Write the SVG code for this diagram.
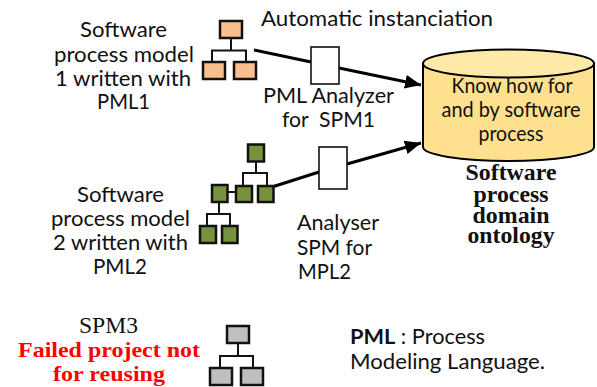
<svg xmlns="http://www.w3.org/2000/svg" width="597" height="387" viewBox="0 0 597 387">
<style>
text{font-family:"Lato","Liberation Sans",sans-serif;font-size:21px;fill:#111}
.s{font-family:"Liberation Serif",serif;font-size:23px}
.b{font-family:"Liberation Serif",serif;font-weight:bold;font-size:23px;fill:#111}
.r{font-family:"Liberation Serif",serif;font-weight:bold;font-size:22px;fill:#f00}
.o rect{fill:#f9bf8c;stroke:#111;stroke-width:2.5}
.g rect{fill:#76923c;stroke:#111;stroke-width:2.5}
.y rect{fill:#bfbfbf;stroke:#111;stroke-width:2.5}
.t{fill:none;stroke:#111;stroke-width:2}
.box{fill:#fff;stroke:#111;stroke-width:1.6}
.c{fill:none;stroke:#000;stroke-width:3}
</style>
<defs>
<marker id="a" markerUnits="userSpaceOnUse" markerWidth="18" markerHeight="16" refX="16" refY="7" orient="auto"><path d="M0 0L16 7L0 14Z" fill="#000"/></marker>
</defs>
<g id="connectors">
<path class="c" d="M254 50L311 62"/>
<path class="c" d="M339 68L421 85" marker-end="url(#a)"/>
<path class="c" d="M272 187L319 172"/>
<path class="c" d="M347 164L421 143" marker-end="url(#a)"/>
</g>
<g id="ontology">
<path d="M423 63.500V147A85.500 14 0 0 0 594 147V63.500Z" fill="#ffe08f" stroke="#000" stroke-width="2"/>
<ellipse cx="508.500" cy="63.500" rx="85.500" ry="14" fill="#ffe9a8" stroke="#000" stroke-width="2"/>
<text x="512" y="93" text-anchor="middle" textLength="121" lengthAdjust="spacingAndGlyphs">Know how for</text>
<text x="511" y="117" text-anchor="middle" textLength="139" lengthAdjust="spacingAndGlyphs">and by software</text>
<text x="511" y="141" text-anchor="middle" textLength="65" lengthAdjust="spacingAndGlyphs">process</text>
<text class="b" x="511" y="180" text-anchor="middle" textLength="91" lengthAdjust="spacingAndGlyphs">Software</text>
<text class="b" x="511" y="202" text-anchor="middle" textLength="75" lengthAdjust="spacingAndGlyphs">process</text>
<text class="b" x="511" y="223" text-anchor="middle" textLength="77" lengthAdjust="spacingAndGlyphs">domain</text>
<text class="b" x="511" y="243" text-anchor="middle" textLength="87" lengthAdjust="spacingAndGlyphs">ontology</text>
</g>
<g id="spm1-tree" class="o">
<path class="t" d="M231 38V50.500M212 62V50.500H246V62"/>
<rect x="220" y="21" width="22" height="17"/>
<rect x="203" y="62" width="22" height="17"/>
<rect x="234" y="62" width="22" height="17"/>
</g>
<g id="spm1-label">
<text x="80" y="37" textLength="87" lengthAdjust="spacingAndGlyphs">Software</text>
<text x="54" y="62" textLength="140" lengthAdjust="spacingAndGlyphs">process model</text>
<text x="55" y="86" textLength="136" lengthAdjust="spacingAndGlyphs">1 written with</text>
<text x="97" y="109" textLength="53" lengthAdjust="spacingAndGlyphs">PML1</text>
</g>
<g id="auto-label"><text x="261" y="26" textLength="232" lengthAdjust="spacingAndGlyphs">Automatic instanciation</text></g>
<g id="analyzer1">
<rect class="box" x="311" y="47" width="28" height="37"/>
<text x="263" y="103" textLength="131" lengthAdjust="spacingAndGlyphs">PML Analyzer</text>
<text x="282" y="127" textLength="93" lengthAdjust="spacingAndGlyphs" xml:space="preserve">for  SPM1</text>
</g>
<g id="spm2-tree" class="g">
<path class="t" d="M256 161V173M243 186V173H267V186M227 192H236M219 202V214M207 226V214H230V226"/>
<rect x="248" y="144.500" width="16" height="17"/>
<rect x="236" y="186" width="16" height="16"/>
<rect x="258" y="186" width="15.500" height="16"/>
<rect x="212" y="185" width="15.500" height="17"/>
<rect x="200" y="226" width="16" height="17"/>
<rect x="222" y="226" width="15.500" height="17"/>
</g>
<g id="spm2-label">
<text x="77" y="202" textLength="87" lengthAdjust="spacingAndGlyphs">Software</text>
<text x="51" y="226" textLength="139" lengthAdjust="spacingAndGlyphs">process model</text>
<text x="53" y="250" textLength="135" lengthAdjust="spacingAndGlyphs">2 written with</text>
<text x="93" y="274" textLength="54" lengthAdjust="spacingAndGlyphs">PML2</text>
</g>
<g id="analyzer2">
<rect class="box" x="319" y="147" width="28" height="42"/>
<text x="297" y="230" textLength="82" lengthAdjust="spacingAndGlyphs">Analyser</text>
<text x="297" y="255" textLength="75" lengthAdjust="spacingAndGlyphs">SPM for</text>
<text x="298" y="279" textLength="53" lengthAdjust="spacingAndGlyphs">MPL2</text>
</g>
<g id="spm3-label">
<text class="s" x="79" y="333" textLength="59" lengthAdjust="spacingAndGlyphs">SPM3</text>
<text class="r" x="109" y="357" text-anchor="middle" textLength="182" lengthAdjust="spacingAndGlyphs">Failed project not</text>
<text class="r" x="109" y="381" text-anchor="middle" textLength="112" lengthAdjust="spacingAndGlyphs">for reusing</text>
</g>
<g id="spm3-tree" class="y">
<path class="t" d="M238 343V356M220 368V356H253V368"/>
<rect x="227" y="326" width="22" height="17"/>
<rect x="210" y="368" width="22" height="17"/>
<rect x="241" y="368" width="22" height="17"/>
</g>
<g id="legend">
<text x="350" y="344" textLength="135" lengthAdjust="spacingAndGlyphs"><tspan font-weight="bold">PML</tspan> : Process</text>
<text x="350" y="369" textLength="195" lengthAdjust="spacingAndGlyphs">Modeling Language.</text>
</g>
</svg>
